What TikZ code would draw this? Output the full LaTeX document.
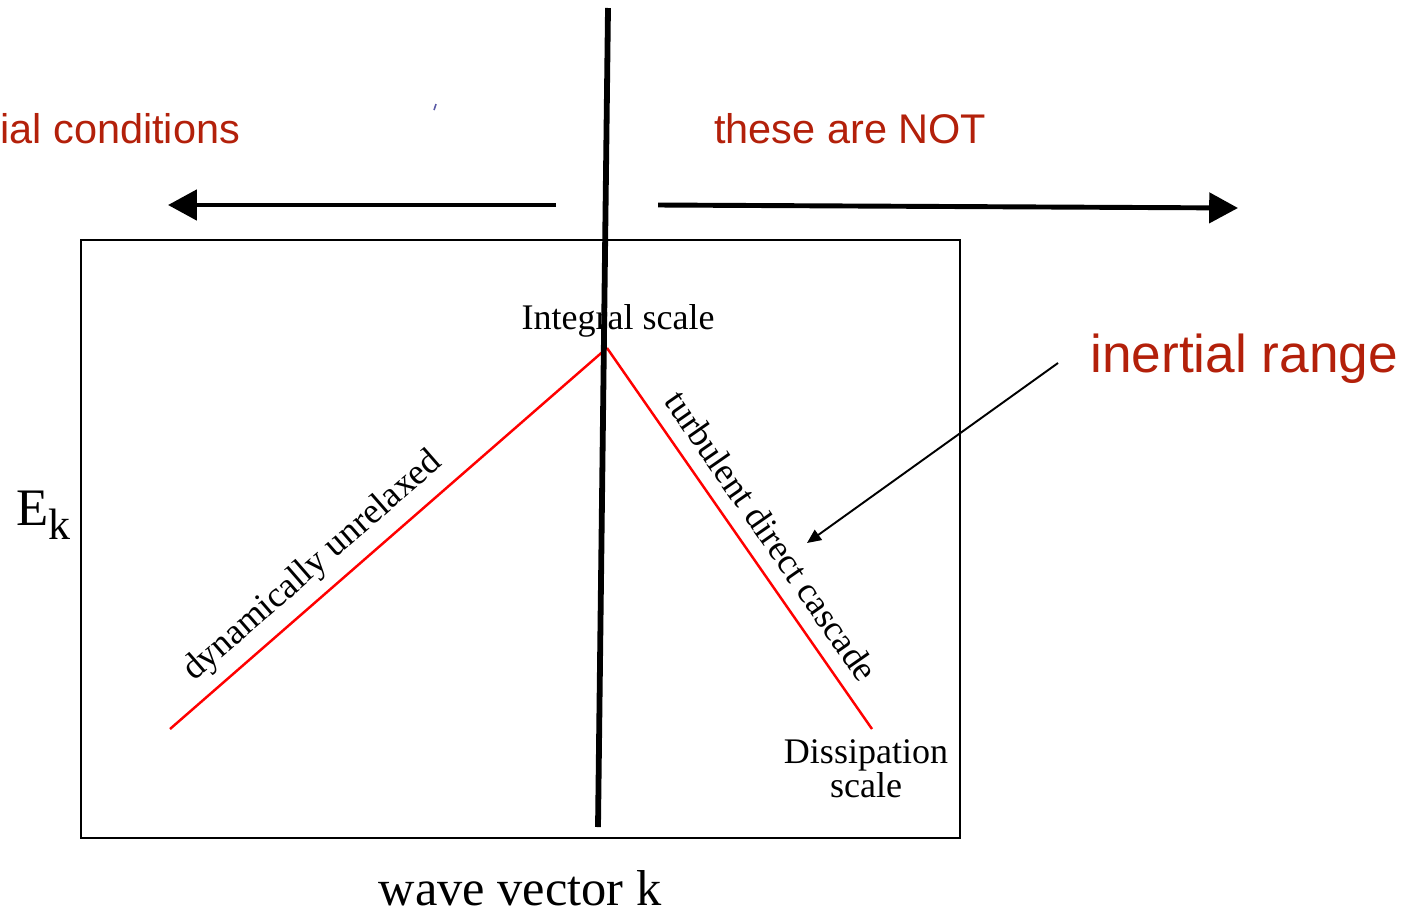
\documentclass[tikz,border=0pt]{standalone}
\usepackage{fontspec}
\setmainfont{Liberation Serif}
\newfontfamily\annotfont{Liberation Sans}
\usetikzlibrary{arrows.meta,positioning}
\definecolor{annotRed}{HTML}{B3200A}
\definecolor{specRed}{HTML}{FF0000}

\begin{document}
\begin{tikzpicture}[x=0.02cm,y=-0.02cm,every node/.style={inner sep=0pt},
  seriflab/.style={font=\fontsize{20.5}{17.6}\selectfont,align=center},
  slopelab/.style={text=black,font=\fontsize{20.6}{24}\selectfont,sloped},
  redlab/.style={text=annotRed,font=\annotfont\fontsize{23.6}{28}\selectfont},
  spectrum/.style={specRed,line width=1.4pt},
  bigarrow/.style={line width=2.8pt,-{Triangle[length=16.4pt,width=17pt]}}]
  \useasboundingbox (0,0) rectangle (1408,913);

  % plot frame and axis labels
  \draw[line width=0.85pt] (81,240) rectangle (960,838);
  \node[font=\fontsize{28.7}{32}\selectfont,anchor=base] (kaxis) at (520,905) {wave vector k};
  \node[font=\fontsize{30}{32}\selectfont,anchor=base west] (eaxis) at (16,525)
    {E\raisebox{-8.5pt}{\fontsize{25}{26}\selectfont k}};

  % spectrum
  \coordinate (lowk) at (170,729);
  \coordinate (peak) at (607,348);
  \coordinate (highk) at (872,729);
  \draw[spectrum] (lowk) -- node[slopelab,above=6pt,pos=0.37] (unrelaxed) {dynamically unrelaxed} (peak);
  \draw[spectrum] (peak) -- node[slopelab,above=7.9pt,pos=0.535] (cascade) {turbulent direct cascade} (highk);
  \node[seriflab,anchor=base] (integral) at (618,329) {Integral scale};
  \node[seriflab,anchor=north] (dissip) at (866,739) {Dissipation\\scale};

  % divider and the two directions
  \coordinate (divtop) at (608,8);
  \coordinate (divbot) at (598,827);
  \draw[line width=3.3pt] (divtop) -- (divbot);
  \coordinate (lstart) at (556,205);
  \coordinate (lend) at (168,205);
  \coordinate (rstart) at (658,205);
  \coordinate (rend) at (1238,208);
  \draw[bigarrow] (lstart) -- (lend);
  \draw[bigarrow] (rstart) -- (rend);
  \node[redlab,anchor=base west] (initcond) at (0,143) {ial conditions};
  \node[redlab,anchor=base west] (notinit) at (714,143) {these are NOT};
  \draw[gray!70!blue,line width=0.9pt] (436,104) -- (434,110);

  % inertial range pointer
  \node[text=annotRed,font=\annotfont\fontsize{30.3}{34}\selectfont,anchor=base west] (inertial) at (1090,372) {inertial range};
  \coordinate (ptrtail) at (1058,363);
  \coordinate (ptrtip) at (807,543);
  \draw[line width=1.1pt,-{Triangle[length=8pt,width=7pt]}] (ptrtail) -- (ptrtip);
\end{tikzpicture}
\end{document}
